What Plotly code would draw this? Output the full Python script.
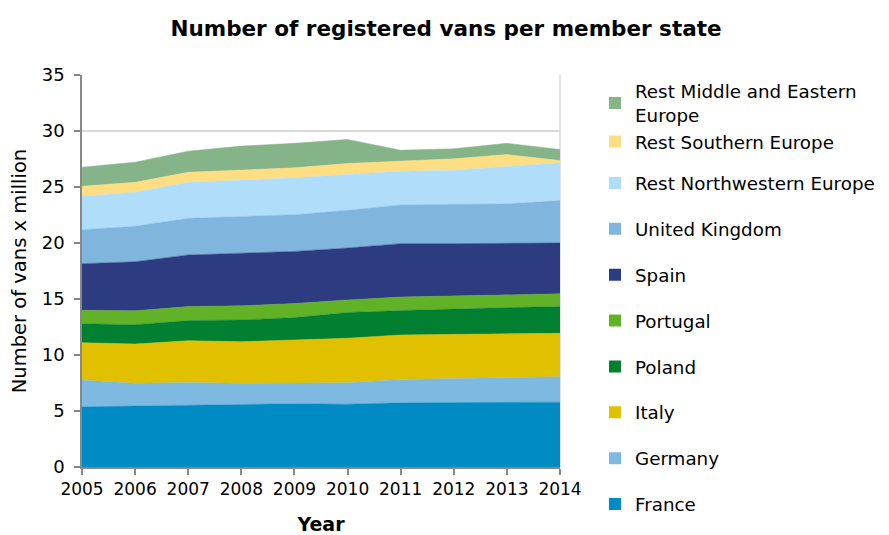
import plotly.graph_objects as go

years = [2005, 2006, 2007, 2008, 2009, 2010, 2011, 2012, 2013, 2014]

france = [5.37, 5.46, 5.52, 5.58, 5.64, 5.61, 5.73, 5.73, 5.76, 5.79]
germany = [2.39, 2.01, 2.03, 1.89, 1.85, 1.91, 2.09, 2.18, 2.24, 2.27]
italy = [3.34, 3.51, 3.73, 3.72, 3.85, 3.98, 3.97, 3.94, 3.91, 3.88]
poland = [1.68, 1.73, 1.79, 1.94, 2.00, 2.29, 2.18, 2.27, 2.32, 2.38]
portugal = [1.22, 1.23, 1.25, 1.26, 1.25, 1.13, 1.20, 1.16, 1.14, 1.14]
spain = [4.15, 4.39, 4.61, 4.71, 4.66, 4.63, 4.77, 4.66, 4.57, 4.54]
united_kingdom = [3.04, 3.16, 3.27, 3.28, 3.28, 3.37, 3.46, 3.52, 3.55, 3.79]
rest_northwestern = [2.98, 3.04, 3.22, 3.22, 3.29, 3.19, 3.01, 3.04, 3.37, 3.37]
rest_southern = [0.90, 0.89, 0.90, 0.90, 0.89, 0.99, 0.89, 1.02, 1.04, 0.21]
rest_middle_eastern = [1.70, 1.80, 1.88, 2.15, 2.19, 2.15, 0.99, 0.89, 1.00, 0.98]

series_names = ["France", "Germany", "Italy", "Poland", "Portugal", "Spain",
                "United Kingdom", "Rest Northwestern Europe", "Rest Southern Europe",
                "Rest Middle and Eastern<br>Europe"]
series_values = [france, germany, italy, poland, portugal, spain, united_kingdom,
                 rest_northwestern, rest_southern, rest_middle_eastern]
series_colors = ["#008BC4", "#7DB9E1", "#E1C000", "#008030", "#62B228", "#2D3C80",
                 "#80B5DE", "#B0DEFA", "#FDDE82", "#84B488"]
legend_groups = ["g1", "g2", "g3", "g4", "g5", "g6", "g7", "g8", "g9", "g9"]
legend_boxes = ["legend2"] * 8 + ["legend", "legend"]

FONT = "DejaVu Sans"
LEGEND_FONT = dict(family=FONT, size=18.3, color="#000000")

fig = go.Figure()
for name, vals, col in zip(series_names, series_values, series_colors):
    fig.add_trace(go.Scatter(
        x=years, y=vals, name=name, stackgroup="one", mode="lines",
        line=dict(width=0.5, color=col), fillcolor=col, showlegend=False,
        hoverinfo="x+y+name"))

# legend entries (square symbols), top of the stack listed first
for name, col, grp, box in reversed(list(zip(series_names, series_colors,
                                             legend_groups, legend_boxes))):
    fig.add_trace(go.Scatter(
        x=[None], y=[None], name=name, mode="markers", legendgroup=grp,
        legend=box, marker=dict(symbol="square", size=12, color=col),
        showlegend=True))

W, H = 881, 527
fig.update_layout(
    width=W, height=H,
    margin=dict(l=74, r=329, t=67, b=68, autoexpand=False),
    paper_bgcolor="white", plot_bgcolor="white",
    font=dict(family=FONT, size=17, color="#000000"),
    title=dict(text="<b>Number of registered vans per member state</b>",
               x=438 / W, xref="container", xanchor="center",
               y=1 - 20 / H, yref="container", yanchor="middle",
               font=dict(family=FONT, size=21.5, color="#000000")),
    legend=dict(x=1.0732, xanchor="left", y=1.0061, yanchor="top",
                traceorder="grouped", tracegroupgap=0, maxheight=H,
                font=LEGEND_FONT, bgcolor="rgba(0,0,0,0)",
                itemclick=False, itemdoubleclick=False),
    legend2=dict(x=1.0732, xanchor="left", y=0.7714, yanchor="top",
                 traceorder="grouped", tracegroupgap=19.07, maxheight=H,
                 font=LEGEND_FONT, bgcolor="rgba(0,0,0,0)",
                 itemclick=False, itemdoubleclick=False),
    showlegend=True,
)

fig.update_xaxes(
    range=[2005, 2014], tickmode="array", tickvals=years,
    ticktext=[str(y) for y in years],
    showgrid=False, zeroline=False, automargin=False,
    showline=True, linecolor="#888888", linewidth=1.5,
    ticks="outside", ticklen=6, tickcolor="#888888", tickwidth=1.5,
    tickfont=dict(family=FONT, size=17, color="#000000"),
    title=dict(text="<b>Year</b>", standoff=28,
               font=dict(family=FONT, size=19, color="#000000")),
)
fig.update_yaxes(
    range=[0, 35], dtick=5, tick0=0,
    showgrid=True, gridcolor="#D9D9D9", gridwidth=1.5, zeroline=False,
    showline=True, linecolor="#888888", linewidth=1.5, automargin=False,
    ticks="outside", ticklen=6, tickcolor="#888888", tickwidth=1.5,
    ticklabelstandoff=6,
    tickfont=dict(family=FONT, size=18, color="#000000"),
    title=dict(text="Number of vans x million", standoff=10,
               font=dict(family=FONT, size=19.5, color="#000000")),
)

fig.add_shape(type="line", xref="paper", yref="paper", x0=1, x1=1, y0=0, y1=1,
              line=dict(color="#D9D9D9", width=1.5), layer="below")

fig.write_html("out.html")
